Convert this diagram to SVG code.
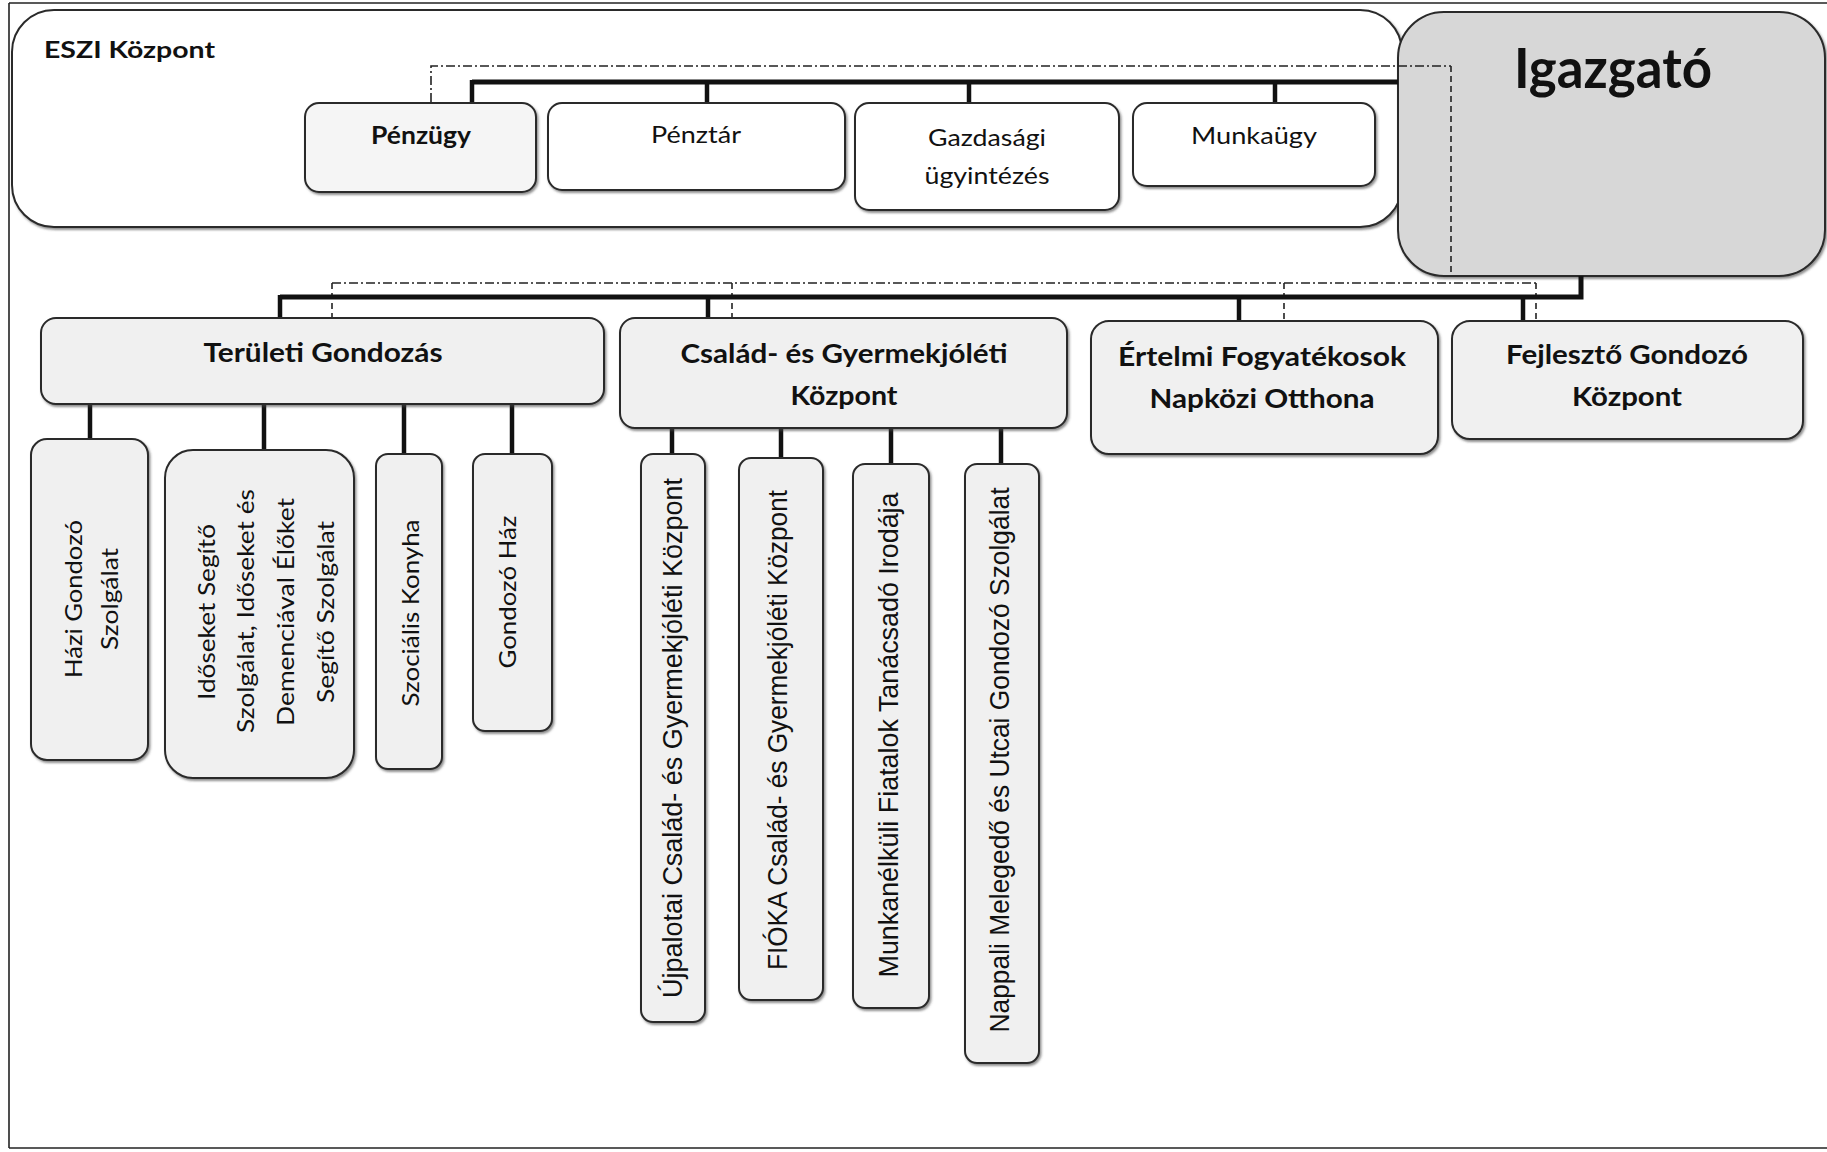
<svg xmlns="http://www.w3.org/2000/svg" width="1827" height="1152" viewBox="0 0 1827 1152">
<defs>
  <filter id="sh" x="-10%" y="-10%" width="120%" height="120%">
    <feDropShadow dx="1.5" dy="2" stdDeviation="0.8" flood-color="#444" flood-opacity="0.6"/>
  </filter>
</defs>
<style>
  .bg{fill:#ffffff}
  .frame{stroke:#222;stroke-width:1.6;fill:none}
  .box{stroke:#2a2a2a;stroke-width:2;fill:#f0f0f0;filter:url(#sh)}
  .wbox{stroke:#2a2a2a;stroke-width:2;fill:#ffffff;filter:url(#sh)}
  .gbox{stroke:#2a2a2a;stroke-width:2;fill:#d7d7d7;filter:url(#sh)}
  .thick{stroke:#111;stroke-width:5;fill:none}
  .drop{stroke:#111;stroke-width:4.5;fill:none}
  .dd{stroke:#222;stroke-width:1.6;fill:none;stroke-dasharray:9 3 2 3}
  .ds{stroke:#222;stroke-width:1.6;fill:none;stroke-dasharray:6 4}
  text{font-family:Lato,"Liberation Sans",sans-serif;fill:#111;text-anchor:middle}
  .b{font-weight:bold}
  .t24{font-size:24px}
  .t26{font-size:26px}
  .v{font-size:24px;dominant-baseline:central}
  .vn{font-size:27px;dominant-baseline:central;font-family:"Liberation Sans",sans-serif}
</style>
<rect class="bg" x="0" y="0" width="1827" height="1152"/>
<g id="page-frame">
  <line class="frame" x1="9" y1="3" x2="1827" y2="3"/>
  <line class="frame" x1="9" y1="3" x2="9" y2="1148"/>
  <line class="frame" x1="9" y1="1148" x2="1827" y2="1148"/>
</g>

<g id="eszi-kozpont">
  <rect class="wbox" x="12" y="10" width="1390" height="217" rx="42"/>
  <text class="b" x="44" y="58" style="text-anchor:start;font-size:23px" textLength="171" lengthAdjust="spacingAndGlyphs">ESZI Központ</text>
</g>

<g id="igazgato">
  <rect class="gbox" x="1398" y="12" width="427" height="264" rx="46"/>
  <text class="b" x="1613" y="88" style="font-size:55px" textLength="198" lengthAdjust="spacingAndGlyphs">Igazgató</text>
</g>

<g id="connectors">
  <!-- top level -->
  <polyline class="dd" points="431,102 431,66 1451,66"/>
  <line class="ds" x1="1451" y1="66" x2="1451" y2="276"/>
  <line class="thick" x1="472" y1="82" x2="1398" y2="82"/>
  <line class="drop" x1="472" y1="80" x2="472" y2="103"/>
  <line class="drop" x1="707" y1="80" x2="707" y2="103"/>
  <line class="drop" x1="969" y1="80" x2="969" y2="103"/>
  <line class="drop" x1="1275" y1="80" x2="1275" y2="103"/>
  <!-- second level -->
  <line class="dd" x1="332" y1="283" x2="1536" y2="283"/>
  <line class="ds" x1="332" y1="283" x2="332" y2="317"/>
  <line class="ds" x1="732" y1="283" x2="732" y2="317"/>
  <line class="ds" x1="1284" y1="283" x2="1284" y2="320"/>
  <line class="ds" x1="1536" y1="283" x2="1536" y2="320"/>
  <polyline class="thick" points="1581,276 1581,297 280,297"/>
  <line class="drop" x1="280" y1="295" x2="280" y2="318"/>
  <line class="drop" x1="708" y1="295" x2="708" y2="318"/>
  <line class="drop" x1="1239" y1="295" x2="1239" y2="321"/>
  <line class="drop" x1="1523" y1="295" x2="1523" y2="321"/>
  <!-- Területi children -->
  <line class="drop" x1="90" y1="404" x2="90" y2="439"/>
  <line class="drop" x1="264" y1="404" x2="264" y2="450"/>
  <line class="drop" x1="404" y1="404" x2="404" y2="454"/>
  <line class="drop" x1="512" y1="404" x2="512" y2="454"/>
  <!-- Család children -->
  <line class="drop" x1="672" y1="428" x2="672" y2="454"/>
  <line class="drop" x1="781" y1="428" x2="781" y2="458"/>
  <line class="drop" x1="891" y1="428" x2="891" y2="464"/>
  <line class="drop" x1="1001" y1="428" x2="1001" y2="464"/>
</g>

<g id="penzugy">
  <rect class="box" x="305" y="103" width="231" height="89" rx="14" style="fill:#f5f5f5"/>
  <text class="b t24" x="421" y="144" textLength="100" lengthAdjust="spacingAndGlyphs">Pénzügy</text>
</g>
<g id="penztar">
  <rect class="wbox" x="548" y="103" width="297" height="87" rx="14"/>
  <text class="t24" x="696" y="143" textLength="90" lengthAdjust="spacingAndGlyphs">Pénztár</text>
</g>
<g id="gazdasagi">
  <rect class="wbox" x="855" y="103" width="264" height="107" rx="14"/>
  <text class="t24" x="987" y="146" textLength="118" lengthAdjust="spacingAndGlyphs">Gazdasági</text>
  <text class="t24" x="987" y="184" textLength="125" lengthAdjust="spacingAndGlyphs">ügyintézés</text>
</g>
<g id="munkaugy">
  <rect class="wbox" x="1133" y="103" width="242" height="83" rx="14"/>
  <text class="t24" x="1254" y="144" textLength="126" lengthAdjust="spacingAndGlyphs">Munkaügy</text>
</g>

<g id="teruleti-gondozas">
  <rect class="box" x="41" y="318" width="563" height="86" rx="15"/>
  <text class="b t26" x="323" y="362" textLength="239" lengthAdjust="spacingAndGlyphs">Területi Gondozás</text>
</g>
<g id="csalad-gyermekjoleti">
  <rect class="box" x="620" y="318" width="447" height="110" rx="15"/>
  <text class="b t26" x="844" y="363" textLength="327" lengthAdjust="spacingAndGlyphs">Család- és Gyermekjóléti</text>
  <text class="b t26" x="844" y="405" textLength="107" lengthAdjust="spacingAndGlyphs">Központ</text>
</g>
<g id="ertelmi-fogyatekosok">
  <rect class="box" x="1091" y="321" width="347" height="133" rx="18"/>
  <text class="b t26" x="1262" y="366" textLength="288" lengthAdjust="spacingAndGlyphs">Értelmi Fogyatékosok</text>
  <text class="b t26" x="1262" y="408" textLength="225" lengthAdjust="spacingAndGlyphs">Napközi Otthona</text>
</g>
<g id="fejleszto-gondozo">
  <rect class="box" x="1452" y="321" width="351" height="118" rx="18"/>
  <text class="b t26" x="1627" y="364" textLength="242" lengthAdjust="spacingAndGlyphs">Fejlesztő Gondozó</text>
  <text class="b t26" x="1627" y="406" textLength="110" lengthAdjust="spacingAndGlyphs">Központ</text>
</g>

<g id="hazi-gondozo">
  <rect class="box" x="31" y="439" width="117" height="321" rx="16"/>
  <text class="v" transform="translate(72,599) rotate(-90)" textLength="158" lengthAdjust="spacingAndGlyphs">Házi Gondozó</text>
  <text class="v" transform="translate(108,599) rotate(-90)" textLength="102" lengthAdjust="spacingAndGlyphs">Szolgálat</text>
</g>
<g id="idoseket-segito">
  <rect class="box" x="165" y="450" width="189" height="328" rx="28"/>
  <text class="v" transform="translate(205,612) rotate(-90)" textLength="176" lengthAdjust="spacingAndGlyphs">Időseket Segítő</text>
  <text class="v" transform="translate(244,611) rotate(-90)" textLength="244" lengthAdjust="spacingAndGlyphs">Szolgálat, Időseket és</text>
  <text class="v" transform="translate(284,612) rotate(-90)" textLength="228" lengthAdjust="spacingAndGlyphs">Demenciával Élőket</text>
  <text class="v" transform="translate(324,612) rotate(-90)" textLength="182" lengthAdjust="spacingAndGlyphs">Segítő Szolgálat</text>
</g>
<g id="szocialis-konyha">
  <rect class="box" x="376" y="454" width="66" height="315" rx="12"/>
  <text class="v" transform="translate(409,613) rotate(-90)" textLength="187" lengthAdjust="spacingAndGlyphs">Szociális Konyha</text>
</g>
<g id="gondozo-haz">
  <rect class="box" x="473" y="454" width="79" height="277" rx="12"/>
  <text class="v" transform="translate(506,592) rotate(-90)" textLength="153" lengthAdjust="spacingAndGlyphs">Gondozó Ház</text>
</g>

<g id="ujpalotai">
  <rect class="box" x="641" y="454" width="64" height="568" rx="12"/>
  <text class="vn" transform="translate(673,738) rotate(-90)" textLength="520" lengthAdjust="spacingAndGlyphs">Újpalotai Család- és Gyermekjóléti Központ</text>
</g>
<g id="fioka">
  <rect class="box" x="739" y="458" width="84" height="542" rx="12"/>
  <text class="vn" transform="translate(778,730) rotate(-90)" textLength="480" lengthAdjust="spacingAndGlyphs">FIÓKA Család- és Gyermekjóléti Központ</text>
</g>
<g id="munkanelkuli">
  <rect class="box" x="853" y="464" width="76" height="544" rx="12"/>
  <text class="vn" transform="translate(889,735) rotate(-90)" textLength="485" lengthAdjust="spacingAndGlyphs">Munkanélküli Fiatalok Tanácsadó Irodája</text>
</g>
<g id="nappali-melegedo">
  <rect class="box" x="965" y="464" width="74" height="599" rx="12"/>
  <text class="vn" transform="translate(1000,760) rotate(-90)" textLength="545" lengthAdjust="spacingAndGlyphs">Nappali Melegedő és Utcai Gondozó Szolgálat</text>
</g>
</svg>
